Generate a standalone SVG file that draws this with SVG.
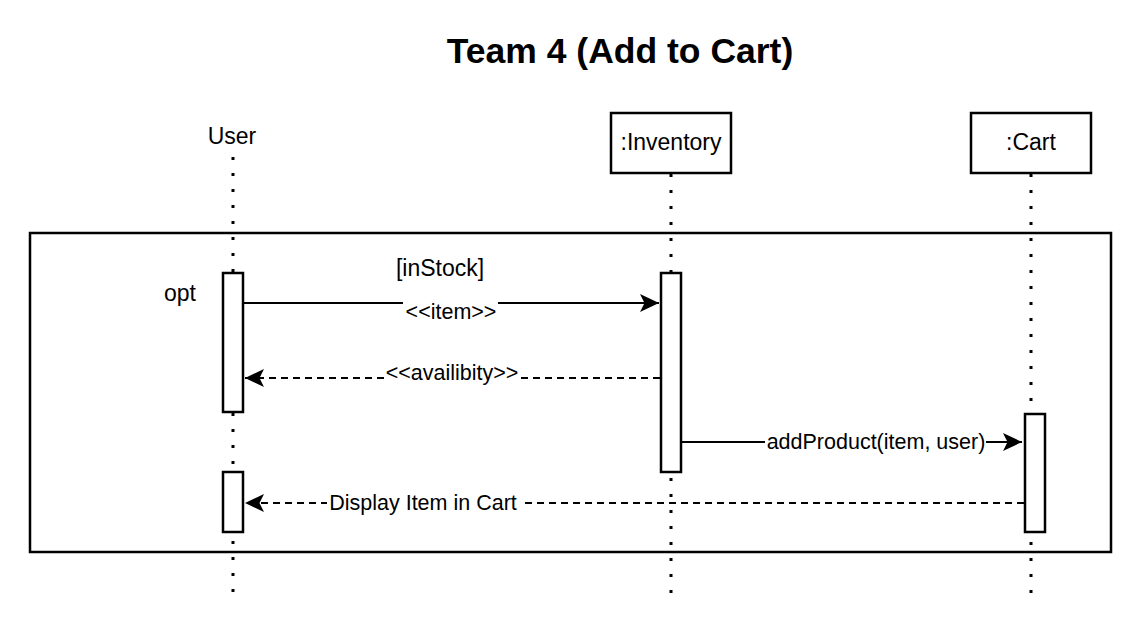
<svg xmlns="http://www.w3.org/2000/svg" width="1144" height="626" viewBox="0 0 1144 626">
  <style>
    text { font-family: "Liberation Sans", Arial, sans-serif; fill: #000; }
    .title { font-size: 35.5px; font-weight: bold; }
    .lbl { font-size: 23px; }
    .elbl { font-size: 21.5px; }
    .box { fill: #fff; stroke: #000; stroke-width: 2.5; }
    .act { fill: #fff; stroke: #000; stroke-width: 2.5; }
    .life { stroke: #000; stroke-width: 3; stroke-dasharray: 3 13; fill: none; }
    .msg { stroke: #000; stroke-width: 2.2; fill: none; }
    .dash { stroke-dasharray: 7 5; }
    .bg { fill: #fff; }
  </style>
  <defs>
    <marker id="arr" markerUnits="userSpaceOnUse" markerWidth="22" markerHeight="22" viewBox="-20 -11 22 22" refX="0" refY="0" orient="auto">
      <path d="M0,0 L-19,-9 L-14.5,0 L-19,9 Z" fill="#000"/>
    </marker>
  </defs>
  <rect width="1144" height="626" fill="#fff"/>

  <text class="title" x="620" y="63" text-anchor="middle">Team 4 (Add to Cart)</text>

  <g id="frame">
    <rect x="30" y="233" width="1081" height="319" fill="none" stroke="#000" stroke-width="2.5"/>
    <text class="lbl" x="180" y="301" text-anchor="middle">opt</text>
    <text class="lbl" x="440" y="276" text-anchor="middle">[inStock]</text>
  </g>

  <g id="user">
    <text class="lbl" x="232" y="144" text-anchor="middle">User</text>
    <line class="life" x1="233" y1="157" x2="233" y2="596"/>
  </g>

  <g id="inventory">
    <rect class="box" x="611" y="113" width="120" height="60"/>
    <text class="lbl" x="671" y="150" text-anchor="middle">:Inventory</text>
    <line class="life" x1="671" y1="174" x2="671" y2="596"/>
  </g>

  <g id="cart">
    <rect class="box" x="971" y="113" width="120" height="60"/>
    <text class="lbl" x="1031" y="150" text-anchor="middle">:Cart</text>
    <line class="life" x1="1031" y1="174" x2="1031" y2="596"/>
  </g>

  <g id="user-act1"><rect class="act" x="223" y="273" width="20" height="139"/></g>
  <g id="user-act2"><rect class="act" x="223" y="472" width="20" height="60"/></g>
  <g id="inventory-act"><rect class="act" x="661" y="273" width="20" height="199"/></g>
  <g id="cart-act"><rect class="act" x="1025" y="414" width="20" height="118"/></g>

  <g id="connectors">
    <line class="msg" x1="244" y1="303" x2="659" y2="303" marker-end="url(#arr)"/>
    <rect class="bg" x="403" y="300" width="95" height="24"/>
    <text class="elbl" x="451" y="319" text-anchor="middle">&lt;&lt;item&gt;&gt;</text>

    <line class="msg dash" x1="660" y1="378" x2="245" y2="378" marker-end="url(#arr)"/>
    <rect class="bg" x="384" y="364" width="137" height="22"/>
    <text class="elbl" x="452" y="380" text-anchor="middle">&lt;&lt;availibity&gt;&gt;</text>

    <line class="msg" x1="682" y1="442" x2="1022" y2="442" marker-end="url(#arr)"/>
    <rect class="bg" x="765" y="430" width="221" height="24"/>
    <text class="elbl" x="876" y="449" text-anchor="middle">addProduct(item, user)</text>

    <line class="msg dash" x1="1024" y1="503" x2="245" y2="503" marker-end="url(#arr)"/>
    <rect class="bg" x="327" y="490" width="193" height="24"/>
    <text class="elbl" x="423" y="510" text-anchor="middle">Display Item in Cart</text>
  </g>
</svg>
